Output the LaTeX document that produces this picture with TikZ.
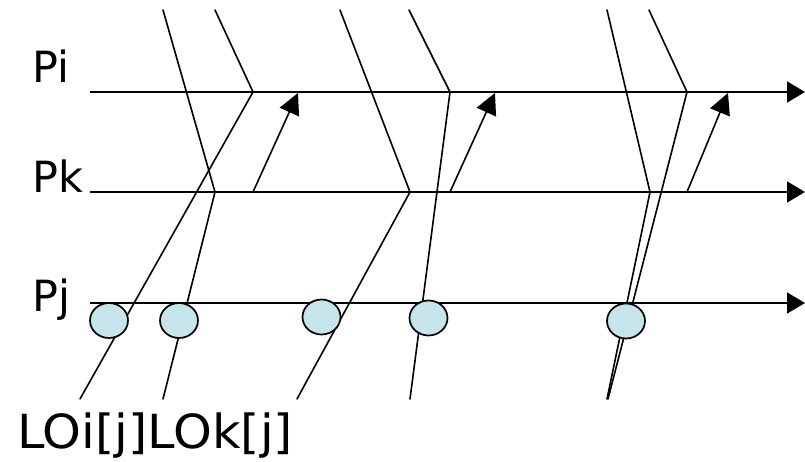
\documentclass[tikz,border=0pt]{standalone}
\usepackage{fontspec}
\setmainfont{DejaVu Sans}
\usetikzlibrary{arrows.meta,shapes.geometric}
\definecolor{logfill}{HTML}{C6E5EA}
\begin{document}
\begin{tikzpicture}[x=1pt,y=-1pt,
  msg/.style={line width=1.6pt, line cap=round},
  procline/.style={line width=1.7pt, -{Triangle[length=18pt,width=21pt]}},
  ack/.style={line width=1.6pt, -{Triangle[length=21pt,width=21pt]}},
  logged/.style={ellipse, draw=black, line width=1.7pt, fill=logfill,
                 minimum width=38pt, minimum height=35pt, inner sep=0pt},
  plabel/.style={anchor=base west, inner sep=0pt, font=\fontsize{43}{52}\selectfont},
  loglabel/.style={anchor=base west, inner sep=0pt, font=\fontsize{47}{56}\selectfont, xscale=1.05}]
\useasboundingbox (0,0) rectangle (805,462);

% process labels
\node[plabel] (li) at (32,83) {Pi};
\node[plabel] (lk) at (32,193) {Pk};
\node[plabel] (lj) at (32,311) {Pj};
\node[loglabel] (lo) at (17,448) {LOi[j]LOk[j]};

% process time lines
\coordinate (pi-s) at (90,92);  \coordinate (pi-e) at (805,92);
\coordinate (pk-s) at (90,192); \coordinate (pk-e) at (805,192);
\coordinate (pj-s) at (90,303); \coordinate (pj-e) at (805,303);
\draw[procline] (pi-s) -- (pi-e);
\draw[procline] (pk-s) -- (pk-e);
\draw[procline] (pj-s) -- (pj-e);

% message endpoints: top sources, receive events, bottom ends
\coordinate (a-t) at (163,10);  \coordinate (a-k) at (215,192); \coordinate (a-b) at (163,399);
\coordinate (b-t) at (215,10);  \coordinate (b-i) at (253,92);  \coordinate (b-b) at (80,399);
\coordinate (c-t) at (340,10);  \coordinate (c-k) at (410,192); \coordinate (c-b) at (297,399);
\coordinate (d-t) at (409,10);  \coordinate (d-i) at (450,92);  \coordinate (d-b) at (410,399);
\coordinate (e-t) at (607,10);  \coordinate (e-k) at (650,192); \coordinate (e-b) at (607,399);
\coordinate (f-t) at (649,10);  \coordinate (f-i) at (687,92);  \coordinate (f-b) at (608,399);

\draw[msg] (a-t) -- (a-k) -- (a-b);
\draw[msg] (b-t) -- (b-i) -- (b-b);
\draw[msg] (c-t) -- (c-k) -- (c-b);
\draw[msg] (d-t) -- (d-i) -- (d-b);
\draw[msg] (e-t) -- (e-k) -- (e-b);
\draw[msg] (f-t) -- (f-i) -- (f-b);

% acknowledgements from Pk to Pi
\coordinate (k1) at (253,192); \coordinate (i1) at (298,93);
\coordinate (k2) at (450,192); \coordinate (i2) at (495,93);
\coordinate (k3) at (687,192); \coordinate (i3) at (728,93);
\draw[ack] (k1) -- (i1);
\draw[ack] (k2) -- (i2);
\draw[ack] (k3) -- (i3);

% logged messages on Pj
\node[logged] (g1) at (109,320.5) {};
\node[logged] (g2) at (179,320.5) {};
\node[logged] (g3) at (321.5,317) {};
\node[logged] (g4) at (428.5,318) {};
\node[logged] (g5) at (626,321) {};
\end{tikzpicture}
\end{document}
